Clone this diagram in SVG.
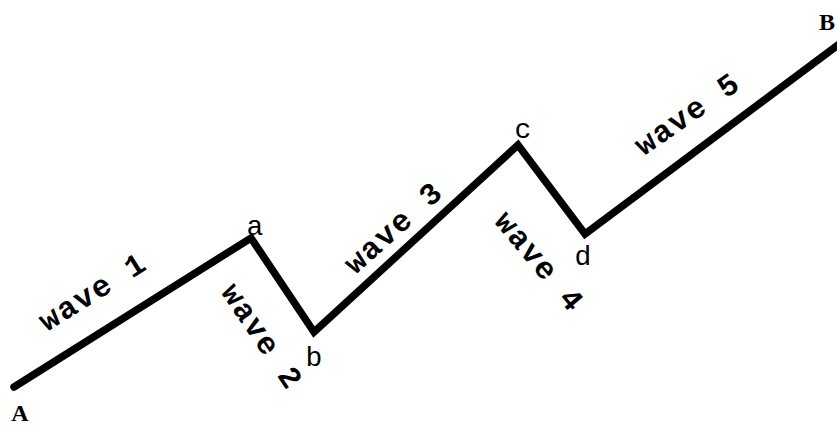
<svg xmlns="http://www.w3.org/2000/svg" width="837" height="425" viewBox="0 0 837 425">
<style>
.w{font-family:"Liberation Mono","Courier New",monospace;font-weight:bold;font-size:31px;letter-spacing:1.5px;fill:#000;text-anchor:middle}
.p{font-family:"Liberation Mono","Courier New",monospace;font-size:28px;fill:#000;text-anchor:middle}
.P{font-family:"Liberation Serif","Times New Roman",serif;font-weight:bold;font-size:24px;fill:#000;text-anchor:middle}
.ln{fill:none;stroke:#000;stroke-width:7.5;stroke-linejoin:miter;stroke-linecap:round}
</style>
<rect width="837" height="425" fill="#fff"/>
<g id="connectors">
<polyline class="ln" points="14,387 251,238 314,332 518,145 585,234 842,42"/>
</g>
<g id="A"><text class="P" x="20" y="421">A</text></g>
<g id="B"><text class="P" x="827" y="30">B</text></g>
<g id="a"><text class="p" x="255" y="235">a</text></g>
<g id="b"><text class="p" x="314" y="366">b</text></g>
<g id="c"><text class="p" x="523" y="138">c</text></g>
<g id="d"><text class="p" x="583" y="265">d</text></g>
<g id="wave1"><text class="w" transform="translate(98,300) rotate(-32)">wave 1</text></g>
<g id="wave2"><text class="w" transform="translate(254,342) rotate(56)">wave 2</text></g>
<g id="wave3"><text class="w" transform="translate(400,235) rotate(-42)">wave 3</text></g>
<g id="wave4"><text class="w" transform="translate(532,268) rotate(50)">wave 4</text></g>
<g id="wave5"><text class="w" transform="translate(693,122) rotate(-35)">wave 5</text></g>
</svg>
